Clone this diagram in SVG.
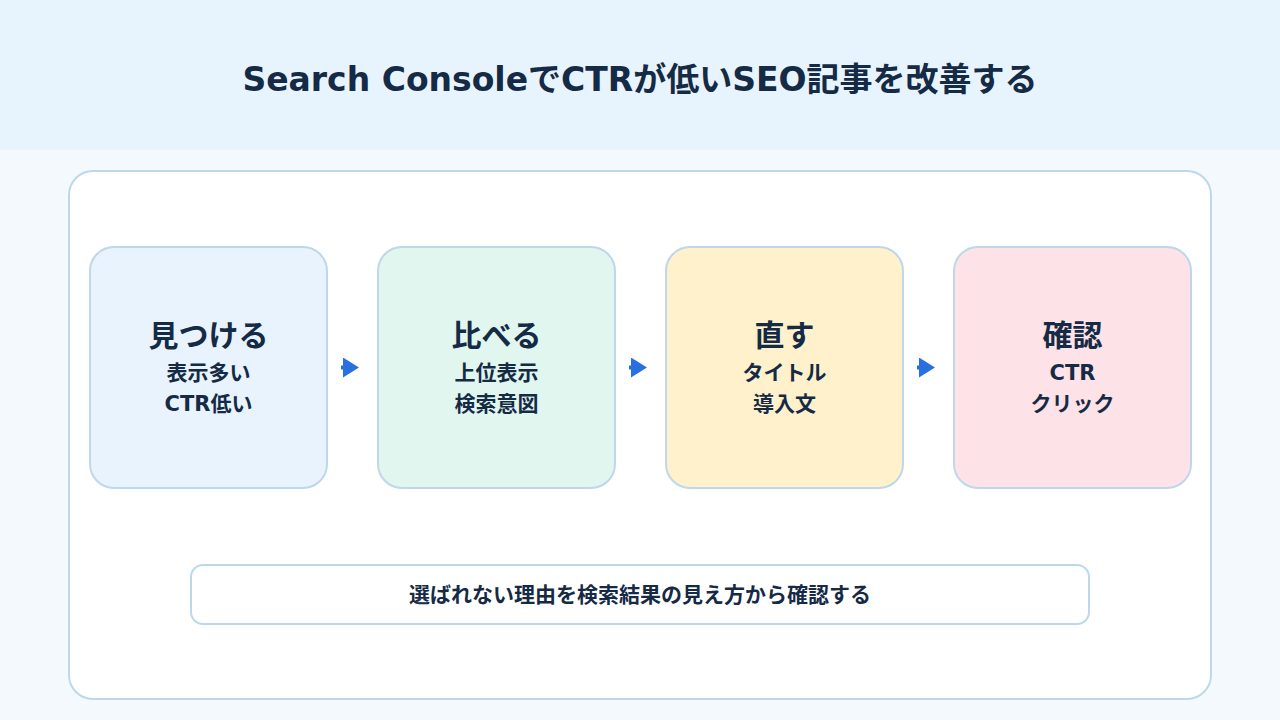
<svg xmlns="http://www.w3.org/2000/svg" width="1280" height="720" viewBox="0 0 1280 720">
<defs>
<style>
text{font-family:"DejaVu Sans","Noto Sans CJK JP",sans-serif;font-weight:700;fill:#152a45;text-anchor:middle}
.t{font-size:33px}
.h{font-size:30px}
.s{font-size:21px}
.n{stroke:#bcd8ea;stroke-width:2}
.c{stroke:#2a6fe0;stroke-width:4;fill:none}
</style>
<marker id="ah" viewBox="0 0 8 10" refX="0" refY="5" markerWidth="4" markerHeight="5" markerUnits="strokeWidth" orient="auto"><path d="M0,0L8,5L0,10z" fill="#2a6fe0"/></marker>
</defs>
<rect width="1280" height="720" fill="#f4f9fd"/>
<rect width="1280" height="150" fill="#e8f4fd"/>
<text class="t" x="640" y="91">Search ConsoleでCTRが低いSEO記事を改善する</text>
<rect x="69" y="171" width="1142" height="528" rx="24" fill="#fff" stroke="#bcd8ea" stroke-width="2"/>
<g id="n1"><rect class="n" x="90" y="247" width="237" height="241" rx="24" fill="#e8f3fd"/><text class="h" x="208.5" y="346">見つける</text><text class="s" x="208.5" y="380">表示多い</text><text class="s" x="208.5" y="411">CTR低い</text></g>
<g id="n2"><rect class="n" x="378" y="247" width="237" height="241" rx="24" fill="#e0f6ee"/><text class="h" x="496.5" y="346">比べる</text><text class="s" x="496.5" y="380">上位表示</text><text class="s" x="496.5" y="411">検索意図</text></g>
<g id="n3"><rect class="n" x="666" y="247" width="237" height="241" rx="24" fill="#fff1cb"/><text class="h" x="784.5" y="346">直す</text><text class="s" x="784.5" y="380">タイトル</text><text class="s" x="784.5" y="411">導入文</text></g>
<g id="n4"><rect class="n" x="954" y="247" width="237" height="241" rx="24" fill="#fde3e7"/><text class="h" x="1072.5" y="346">確認</text><text class="s" x="1072.5" y="380">CTR</text><text class="s" x="1072.5" y="411">クリック</text></g>
<g id="connectors">
<path class="c" d="M341,367.5H343" marker-end="url(#ah)"/>
<path class="c" d="M629,367.5H631" marker-end="url(#ah)"/>
<path class="c" d="M917,367.5H919" marker-end="url(#ah)"/>
</g>
<g id="note"><rect x="191" y="565" width="898" height="59" rx="12" fill="#fff" stroke="#bcd8ea" stroke-width="2"/><text class="s" x="640" y="602">選ばれない理由を検索結果の見え方から確認する</text></g>
</svg>
